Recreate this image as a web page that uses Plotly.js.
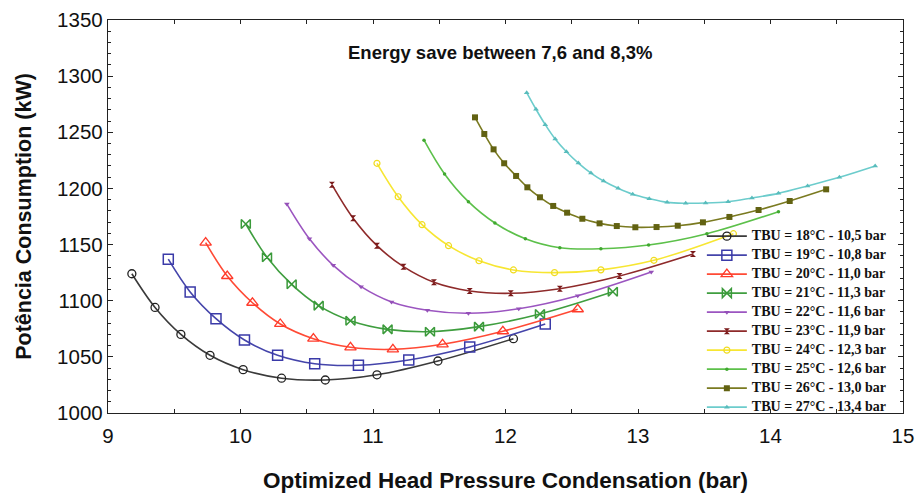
<!DOCTYPE html>
<html>
<head>
<meta charset="utf-8">
<script src="https://cdn.plot.ly/plotly-3.0.1.min.js"></script>
<style>html,body{margin:0;padding:0;background:#fff;}#chart{width:916px;height:493px;}</style>
</head>
<body>
<div id="chart"></div>
<script>
// Series names
const seriesNames = [
  "TBU = 18°C - 10,5 bar", "TBU = 19°C - 10,8 bar", "TBU = 20°C - 11,0 bar",
  "TBU = 21°C - 11,3 bar", "TBU = 22°C - 11,6 bar", "TBU = 23°C - 11,9 bar",
  "TBU = 24°C - 12,3 bar", "TBU = 25°C - 12,6 bar", "TBU = 26°C - 13,0 bar",
  "TBU = 27°C - 13,4 bar"
];

// Pressure (bar) and power (kW) per series
const x18 = [9.18, 9.355, 9.55, 9.77, 10.02, 10.31, 10.64, 11.03, 11.49, 12.06];
const y18 = [1124, 1094, 1070, 1051.4, 1038.6, 1031, 1029.4, 1034, 1046.3, 1066.2];

const x19 = [9.455, 9.62, 9.815, 10.03, 10.28, 10.56, 10.89, 11.27, 11.73, 12.30];
const y19 = [1137, 1107.8, 1084, 1065, 1051.4, 1043.9, 1042.5, 1047.2, 1058.8, 1079.3];

const x20 = [9.737, 9.90, 10.09, 10.30, 10.55, 10.83, 11.15, 11.525, 11.98, 12.545];
const y20 = [1151.7, 1122, 1098.2, 1079.3, 1066.2, 1058.5, 1056.7, 1061.2, 1072.8, 1092.4];

const x21 = [10.04, 10.20, 10.386, 10.59, 10.83, 11.11, 11.43, 11.80, 12.26, 12.81];
const y21 = [1168.3, 1138.7, 1114.6, 1095.6, 1082.2, 1074.5, 1072.4, 1076.9, 1088.2, 1108];

const x22 = [10.35, 10.52, 10.70, 10.91, 11.14, 11.41, 11.72, 12.10, 12.545, 13.10];
const y22 = [1186.1, 1155.2, 1131.5, 1112.5, 1098.9, 1091.5, 1088.8, 1092.9, 1104.5, 1125.6];

const x23 = [10.69, 10.85, 11.03, 11.23, 11.46, 11.73, 12.04, 12.41, 12.86, 13.415];
const y23 = [1203.3, 1173.4, 1149, 1130.3, 1116.4, 1108.7, 1106.6, 1110.7, 1122, 1141.6];

const x24 = [11.03, 11.19, 11.37, 11.57, 11.80, 12.06, 12.37, 12.72, 13.12, 13.72];
const y24 = [1222.4, 1192.6, 1167.7, 1149, 1135.6, 1127.4, 1125, 1127.5, 1136, 1159.7];

const x25 = [11.385, 11.54, 11.72, 11.92, 12.15, 12.41, 12.72, 13.08, 13.52, 14.06];
const y25 = [1243, 1212.9, 1188.2, 1169.2, 1155.2, 1147.2, 1146.3, 1149.6, 1159.7, 1179.3];

const x26 = [11.77, 11.84, 11.91, 11.99, 12.08, 12.165, 12.26, 12.36, 12.465, 12.58,
             12.71, 12.84, 12.98, 13.14, 13.30, 13.49, 13.69, 13.91, 14.145, 14.42];
const y26 = [1263.3, 1248.5, 1234.8, 1222.4, 1211.1, 1201, 1192.1, 1184.4, 1178.4, 1173,
             1168.9, 1166.5, 1165.4, 1165.6, 1166.8, 1169.8, 1174.6, 1180.8, 1188.8, 1199.2];

const x27 = [12.16, 12.23, 12.30, 12.375, 12.46, 12.55, 12.645, 12.74, 12.85, 12.96,
             13.085, 13.22, 13.36, 13.51, 13.68, 13.86, 14.06, 14.28, 14.52, 14.79];
const y27 = [1285.3, 1270.5, 1256.8, 1244, 1232.7, 1222.6, 1213.7, 1206.6, 1200.1, 1194.8,
             1190.9, 1187.6, 1186.8, 1187, 1188.2, 1191.5, 1195.6, 1202.2, 1209.9, 1220];

const xs = [x18, x19, x20, x21, x22, x23, x24, x25, x26, x27];
const ys = [y18, y19, y20, y21, y22, y23, y24, y25, y26, y27];

const styles = [
  {color: "#3a3a3a", mcolor: "#222222", symbol: "circle-open", size: 8, mw: 1.3},
  {color: "#4444aa", mcolor: "#3a3aa8", symbol: "square-open", size: 10, mw: 1.5},
  {color: "#ff4a35", mcolor: "#ff3a2a", symbol: "triangle-up-open", size: 10, mw: 1.3},
  {color: "#3f9e3f", mcolor: "#3a9a3a", symbol: "bowtie-open", size: 9, mw: 1.5},
  {color: "#9b55c0", mcolor: "#9450b8", symbol: "triangle-down", size: 5, mw: 0},
  {color: "#8e2a2a", mcolor: "#7a1a1a", symbol: "hourglass", size: 6, mw: 0},
  {color: "#f7e632", mcolor: "#f0dc20", symbol: "circle-open", size: 6, mw: 1.2},
  {color: "#5cc04a", mcolor: "#40a830", symbol: "circle", size: 3.5, mw: 0},
  {color: "#7a7a20", mcolor: "#626212", symbol: "square", size: 6, mw: 0},
  {color: "#6ccccc", mcolor: "#58bcbc", symbol: "triangle-up", size: 5, mw: 0}
];

const traces = xs.map((x, i) => ({
  x: x, y: ys[i],
  name: '<span style="font-size:14px">' + seriesNames[i] + '</span>',
  type: "scatter", mode: "lines+markers",
  line: {color: styles[i].color, width: 1.6, shape: "spline", smoothing: 1},
  marker: {symbol: styles[i].symbol, size: styles[i].size, color: styles[i].mcolor,
           line: {color: styles[i].mcolor, width: styles[i].mw}}
}));

const axisFont = {family: "Liberation Sans, Arial, sans-serif", size: 20.5, color: "#111"};

const layout = {
  width: 916, height: 493,
  margin: {l: 108, r: 13, t: 20, b: 80},
  paper_bgcolor: "#fff", plot_bgcolor: "#fff",
  showlegend: true,
  xaxis: {
    range: [9, 15], dtick: 1, tick0: 9,
    showline: true, linecolor: "#222", linewidth: 1.2, mirror: "allticks",
    ticks: "inside", ticklen: 4, tickcolor: "#222",
    minor: {dtick: 0.5, ticks: "inside", ticklen: 4, tickcolor: "#222"},
    showgrid: false, zeroline: false, tickfont: axisFont,
    ticklabelstandoff: 4,
    title: {text: "Optimized Head Pressure Condensation (bar)",
            font: {family: "Liberation Sans, Arial, sans-serif", size: 22.5, color: "#111", weight: "bold"},
            standoff: 26}
  },
  yaxis: {
    range: [1000, 1350], dtick: 50, tick0: 1000,
    showline: true, linecolor: "#222", linewidth: 1.2, mirror: "allticks",
    ticks: "inside", ticklen: 5, tickcolor: "#222",
    minor: {dtick: 10, ticks: "inside", ticklen: 3, tickcolor: "#222"},
    showgrid: false, zeroline: false, tickfont: axisFont,
    title: {text: "Potência Consumption (kW)",
            font: {family: "Liberation Sans, Arial, sans-serif", size: 21.5, color: "#111", weight: "bold"},
            standoff: 19}
  },
  legend: {
    x: 0.747, y: -0.022, xanchor: "left", yanchor: "bottom",
    bgcolor: "rgba(255,255,255,0)", borderwidth: 0,
    font: {family: "Liberation Serif, Times New Roman, serif", size: 10, color: "#111", weight: "bold"},
    tracegroupgap: 0, itemwidth: 40
  },
  annotations: [{
    x: 11.96, y: 1321.5, xref: "x", yref: "y", showarrow: false,
    text: "Energy save between 7,6 and 8,3%",
    font: {family: "Liberation Sans, Arial, sans-serif", size: 18.5, color: "#111", weight: "bold"}
  }]
};

Plotly.newPlot("chart", traces, layout, {displayModeBar: false, staticPlot: true});
</script>
</body>
</html>
